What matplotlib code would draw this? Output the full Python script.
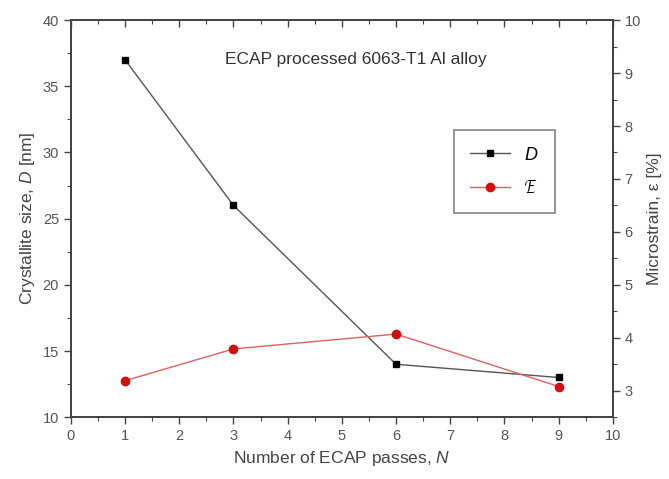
import numpy as np
import matplotlib
matplotlib.use("Agg")
import matplotlib.pyplot as plt
from matplotlib.ticker import MultipleLocator

plt.rcParams.update({'font.family': 'Liberation Sans', 'font.size': 10.5,
                     'mathtext.fontset': 'custom', 'mathtext.it': 'Liberation Sans:italic'})

passes = [1, 3, 6, 9]
crystallite_nm = [37.0, 26.0, 14.0, 13.0]
microstrain_pct = [3.19, 3.79, 4.07, 3.08]

fig = plt.figure(figsize=(6.69, 4.79), dpi=100)
ax = fig.add_axes([0.106, 0.129, 0.810, 0.829])
ax2 = ax.twinx()

l1, = ax.plot(passes, crystallite_nm, color='#555555', lw=1.0, marker='s', ms=5,
              mfc='black', mec='black', label='$D$')
l2, = ax2.plot(passes, microstrain_pct, color='#e06060', lw=1.0, marker='o', ms=6,
               mfc='#d01010', mec='#d01010', label=r'$\mathcal{E}$')

ax.set_xlim(0, 10)
ax.set_ylim(10, 40)
ax2.set_ylim(2.5, 10)

ax.xaxis.set_major_locator(MultipleLocator(1))
ax.xaxis.set_minor_locator(MultipleLocator(0.5))
ax.yaxis.set_major_locator(MultipleLocator(5))
ax.yaxis.set_minor_locator(MultipleLocator(2.5))
ax2.yaxis.set_major_locator(MultipleLocator(1))
ax2.yaxis.set_minor_locator(MultipleLocator(0.5))
ax2.set_yticks(range(3, 11))

for a in (ax, ax2):
    for s in a.spines.values():
        s.set_color('#444444')
        s.set_linewidth(1.3)
ax.tick_params(axis='both', which='major', direction='out', length=5, width=1.0,
               colors='#444444', labelcolor='#555555')
ax.tick_params(axis='both', which='minor', direction='out', length=3, width=0.8,
               colors='#444444')
ax2.tick_params(axis='y', which='major', direction='out', length=5, width=1.0,
                colors='#444444', labelcolor='#555555')
ax2.tick_params(axis='y', which='minor', direction='out', length=3, width=0.8,
                colors='#444444')

# top axis: ticks pointing inward, no labels
top = ax.secondary_xaxis('top')
top.xaxis.set_major_locator(MultipleLocator(1))
top.xaxis.set_minor_locator(MultipleLocator(0.5))
top.tick_params(which='major', direction='in', length=5, width=1.0, colors='#444444',
                labeltop=False)
top.tick_params(which='minor', direction='in', length=3, width=0.8, colors='#444444')
top.spines['top'].set_color('#444444')
top.spines['top'].set_linewidth(1.3)

ax.set_xlabel('Number of ECAP passes, $N$', fontsize=12.5, color='#444444')
ax.set_ylabel('Crystallite size, $D$ [nm]', fontsize=12.5, color='#444444')
ax2.set_ylabel('Microstrain, ε [%]', fontsize=12.5, color='#444444')

ax.text(0.285, 0.90, 'ECAP processed 6063-T1 Al alloy', transform=ax.transAxes,
        fontsize=12.5, color='#333333', ha='left', va='center')

leg = ax.legend(handles=[l1, l2], loc='upper left', bbox_to_anchor=(0.69, 0.745),
                fontsize=13, frameon=True, fancybox=False, edgecolor='#666666',
                handlelength=2.2, labelspacing=0.9, borderpad=0.9)
leg.get_frame().set_linewidth(1.2)

fig.savefig('out.png', dpi=100)
